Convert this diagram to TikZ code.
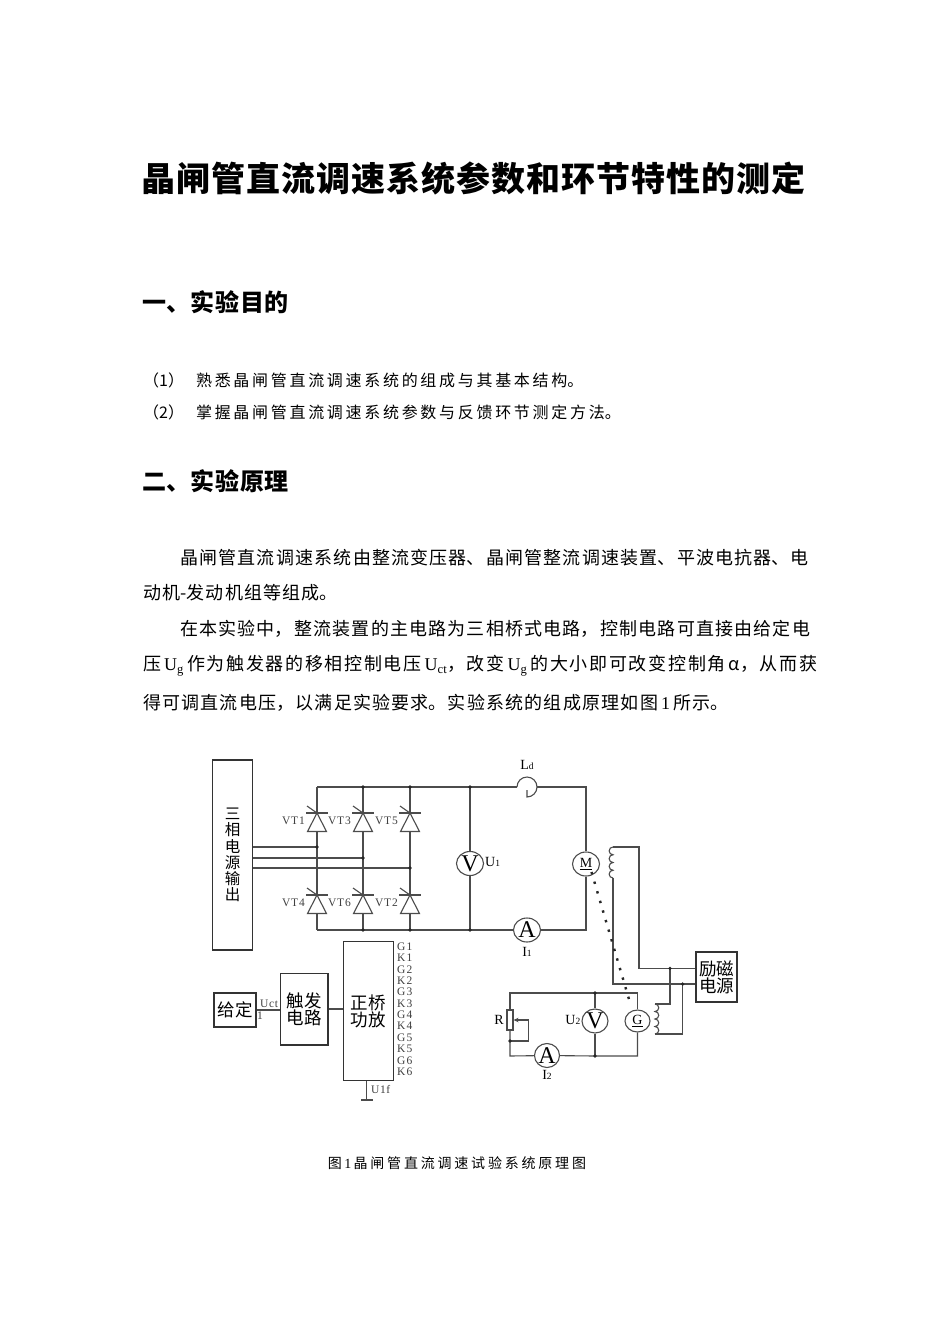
\documentclass[tikz,border=0pt]{standalone}
\usepackage{fontspec}
\setmainfont{Liberation Serif}
\newfontfamily\cjk{Noto Sans CJK SC}
\XeTeXlinebreaklocale "zh"
\XeTeXlinebreakskip=0pt plus 3pt
\usetikzlibrary{arrows.meta,shapes.geometric}
\newcommand{\smallidx}[1]{{\fontsize{9.5}{9.5}\selectfont #1}}
\tikzset{
	headline/.style={inner sep=0pt, text width=800pt, align=center, font={\cjk\bfseries\fontsize{34}{34}\selectfont\parindent=0pt\XeTeXlinebreakskip=0.95pt\relax}},
	heading/.style={anchor=west, inner sep=0pt, text width=400pt, align=left, font={\cjk\bfseries\fontsize{24}{24}\selectfont\parindent=0pt\XeTeXlinebreakskip=0.7pt plus 2pt\relax}},
	listline/.style={anchor=west, inner sep=0pt, text width=640pt, align=left, font={\cjk\fontsize{16}{16}\selectfont\parindent=0pt\XeTeXlinebreakskip=2.7pt plus 2pt\relax}},
	body/.style={anchor=west, inner sep=0pt, text width=#1, font={\cjk\fontsize{18}{18}\selectfont\parindent=0pt\XeTeXlinebreakskip=1.2pt plus 6pt\relax}},
	figcap/.style={inner sep=0pt, text width=400pt, align=center, font={\cjk\fontsize{14}{14}\selectfont\parindent=0pt\XeTeXlinebreakskip=2.8pt\relax}},
	wire/.style={draw=black!70, line width=1.1pt},
	box/.style={draw=black!80, line width=1.3pt, inner sep=0pt, align=center, font={\cjk\fontsize{17.5}{17}\selectfont}},
	heavybox/.style={box, line width=2.3pt},
	meter/.style={draw=black!70, line width=1.1pt, ellipse, inner sep=0pt, minimum width=27pt, minimum height=24pt, fill=white, font=\fontsize{24}{24}\selectfont},
	junction/.style={circle, fill=black!85, inner sep=0pt, minimum size=3.6pt},
	lbl/.style={inner sep=0pt, font=\fontsize{14}{14}\selectfont},
	pinlbl/.style={inner sep=0pt, text=black!75, font=\fontsize{11.5}{11.5}\selectfont}
}
\begin{document}
\begin{tikzpicture}[x=1pt,y=1pt]
	\fill[white] (0,0) rectangle (950,-1344);
	\useasboundingbox (0,0) rectangle (950,-1344);

	% Page text
	\node[headline] (head) at (473.5,-178) {晶闸管直流调速系统参数和环节特性的测定};
	\node[heading] (sec1) at (142,-302) {一、实验目的};
	\node[listline] (aim1) at (143,-380) {（1）\hspace{12pt}熟悉晶闸管直流调速系统的组成与其基本结构。};
	\node[listline] (aim2) at (143,-412) {（2）\hspace{12pt}掌握晶闸管直流调速系统参数与反馈环节测定方法。};
	\node[heading] (sec2) at (142,-481) {二、实验原理};
	\node[body=634pt, align=justify] (par1a) at (180,-558) {\parfillskip=0pt 晶闸管直流调速系统由整流变压器、晶闸管整流调速装置、平波电抗器、电};
	\node[body=700pt, align=left] (par1b) at (143,-593) {动机-发动机组等组成。};
	\node[body=634pt, align=justify] (par2a) at (180,-629) {\parfillskip=0pt 在本实验中，整流装置的主电路为三相桥式电路，控制电路可直接由给定电};
	\node[body=700pt, align=left, font={\cjk\fontsize{18}{18}\selectfont\parindent=0pt\XeTeXlinebreakskip=1.7pt\relax}] (par2b) at (143,-666) {压{\rmfamily\,U\textsubscript{g}\,}作为触发器的移相控制电压{\rmfamily\,U\textsubscript{ct}}，改变{\rmfamily\,U\textsubscript{g}\,}的大小即可改变控制角\,α，从而获};
	\node[body=700pt, align=left] (par2c) at (143,-703) {得可调直流电压，以满足实验要求。实验系统的组成原理如图{\rmfamily\,1\,}所示。};
	\node[figcap] (cap) at (457,-1163) {图{\rmfamily\,1\,}晶闸管直流调速试验系统原理图};

	% Blocks
	\node[box, minimum width=39.5pt, minimum height=190pt, font={\cjk\fontsize{15.5}{16.2}\selectfont}] (src) at (232.5,-855) {三\\相\\电\\源\\输\\出};
	\node[heavybox, minimum width=41.7pt, minimum height=34.6pt] (gei) at (235,-1010) {给定};
	\node[box, minimum width=47.7pt, minimum height=71.7pt] (trig) at (304,-1009) {触发\\电路};
	\node[box, minimum width=50pt, minimum height=139pt] (amp) at (368.3,-1011) {正桥\\功放};
	\node[heavybox, minimum width=40.7pt, minimum height=50pt] (exc) at (716.5,-977) {励磁\\电源};

	% Bridge rails and junctions
	\coordinate (t1) at (317,-787); \coordinate (t3) at (363,-787);
	\coordinate (t5) at (410,-787); \coordinate (tv) at (470,-787);
	\coordinate (tm) at (586,-787);
	\coordinate (b1) at (317,-930); \coordinate (b3) at (363,-930);
	\coordinate (b5) at (410,-930); \coordinate (bv) at (470,-930);
	\coordinate (bm) at (586,-930);
	\coordinate (p1) at (317,-847); \coordinate (p2) at (363,-858);
	\coordinate (p3) at (410,-868);
	\coordinate (Ldl) at (517,-787); \coordinate (Ldr) at (537,-787);

	% Thyristor legs
	\foreach \x/\n/\m in {317/1/4, 363/3/6, 410/5/2} {
			\draw[wire] (\x,-787) -- (\x,-930);
			\foreach \y/\k in {-813/\n, -895/\m} {
					\draw[wire, fill=white] (\x,\y) -- ++(-9.5,-18.5) -- ++(19,0) -- cycle;
					\draw[wire] (\x-11,\y) -- (\x+11,\y);
					\draw[wire] (\x,\y) -- ++(-10,7);
					\node[pinlbl, anchor=east] (vt\k) at (\x-12,\y-8) {V\kern0.8pt T\kern0.8pt\k};
				}
		}

	% Phase lines
	\foreach \p in {p1,p2,p3}
	\draw[wire] (src.east |- \p) -- (\p);

	% Meters and machines
	\node[meter] (V1) at (470,-863.5) {V};
	\node[meter] (A1) at (527,-930) {A};
	\node[meter, font=\fontsize{14}{14}\selectfont] (M) at (586,-864) {\underline{M}};
	\node[meter, minimum width=26pt] (V2) at (595,-1021) {V};
	\node[meter, minimum width=25pt, minimum height=22pt, font=\fontsize{14}{14}\selectfont] (G) at (637.5,-1021) {\underline{G}};
	\node[meter, minimum width=25pt] (A2) at (547,-1055.5) {A};

	% Main circuit
	\draw[wire] (t1) -- (Ldl);
	\draw[wire] (Ldl) arc[start angle=180, end angle=-90, radius=10] -- ++(0,7);
	\draw[wire] (Ldr) -- (tm) -- (M);
	\draw[wire] (M) -- (bm) -- (A1) -- (b1);
	\draw[wire] (tv) -- (V1) -- (bv);
	\foreach \p in {t3,t5,tv,b3,b5,bv,p1,p2,p3}
	\node[junction] (j\p) at (\p) {};

	\node[lbl] (Ld) at (527,-765) {L\smallidx{d}};
	\node[lbl, anchor=west] (U1) at (485,-862) {U\smallidx{1}};
	\node[lbl] (I1) at (527,-952) {I\smallidx{1}};

	% Field windings
	\coordinate (mc1) at (613,-847); \coordinate (mc2) at (613,-878);
	\coordinate (gc1) at (655,-1004); \coordinate (gc2) at (655,-1034);
	\coordinate (e1) at ([yshift=8.7pt]exc.west);
	\coordinate (e2) at ([yshift=-7pt]exc.west);
	\coordinate (jx1) at (670,-968.3); \coordinate (jx2) at (682.7,-984);
	\draw[wire] (mc1) \foreach \i in {1,...,4} { arc[start angle=90, end angle=270, radius=3.875] };
	\draw[wire] (gc1) \foreach \i in {1,...,4} { arc[start angle=90, end angle=-90, radius=3.75] };
	\draw[wire] (mc1) -- ++(26,0) |- (e1);
	\draw[wire] (mc2) |- (e2);
	\draw[wire] (gc1) -| (jx1);
	\draw[wire] (gc2) -| (jx2);
	\node[junction] (jjx1) at (jx1) {};
	\node[junction] (jjx2) at (jx2) {};

	% Shaft
	\coordinate (sh1) at (591.5,-872); \coordinate (sh2) at (631,-1006);
	\draw[black!85, line width=2.4pt, dash pattern=on 2.4pt off 7.6pt] (sh1) -- (sh2);

	% Generator load
	\coordinate (gtl) at (510,-993); \coordinate (gtv) at (595,-993);
	\coordinate (gtr) at (637.5,-993);
	\coordinate (gbl) at (510,-1056); \coordinate (gbv) at (595,-1056);
	\coordinate (gbr) at (637.5,-1056);
	\coordinate (jr) at (510,-1041);
	\node[draw=black!70, line width=1.1pt, minimum width=6pt, minimum height=20pt, inner sep=0pt] (R) at (510,-1020) {};
	\draw[wire] (R.north) -- (gtl) -- (gtv) -- (gtr) -- (G);
	\draw[wire] (G) -- (gbr) -- (gbv) -- (A2) -- (gbl) -- (R.south);
	\draw[wire] (gtv) -- (V2) -- (gbv);
	\draw[wire, -{Stealth[length=5pt, width=4.5pt]}] (jr) -- (528.3,-1041) -- (528.3,-1020) -- (R.east);
	\foreach \p in {gtv,gbv,jr}
	\node[junction] (j\p) at (\p) {};

	\node[lbl] (Rl) at (499,-1020) {R};
	\node[lbl, anchor=east] (U2) at (580.5,-1020) {U\smallidx{2}};
	\node[lbl] (I2) at (547,-1075) {I\smallidx{2}};

	% Control chain
	\draw[wire] (gei.east) -- (gei.east -| trig.west);
	\draw[wire] (trig.east) -- (trig.east -| amp.west);
	\node[pinlbl, anchor=south west] (uct) at (260,-1008) {U\kern0.6pt c\kern0.6pt t};
	\node[pinlbl, anchor=north west] (uct1) at (257,-1012) {1};
	\foreach [count=\i] \s/\d in {G/1,K/1,G/2,K/2,G/3,K/3,G/4,K/4,G/5,K/5,G/6,K/6}
	\node[pinlbl, anchor=west] (pin\i) at (397,{-935.3-11.36*\i}) {\s\kern1.2pt\d};

	% Ground
	\coordinate (gnd) at (366.7,-1100);
	\draw[wire] (amp.south -| gnd) -- (gnd);
	\draw[wire] ([xshift=-5.5pt]gnd) -- ([xshift=6pt]gnd);
	\node[pinlbl, anchor=west] (u1f) at (371,-1089) {U\kern0.6pt 1\kern0.6pt f};
\end{tikzpicture}
\end{document}
